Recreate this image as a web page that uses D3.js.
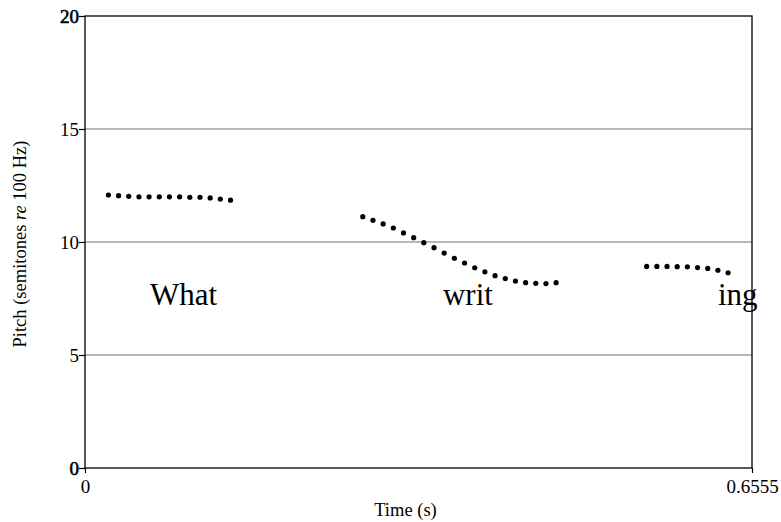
<!DOCTYPE html>
<html>
<head>
<meta charset="utf-8">
<script src="https://cdn.jsdelivr.net/npm/d3@7"></script>
<style>
  html, body { margin: 0; padding: 0; background: #fff; }
  svg { display: block; }
  svg text { font-family: "Liberation Serif", Times, serif !important; }
</style>
</head>
<body>
<svg id="chart" width="781" height="522"></svg>
<script>
// Pitch track data (time in s, pitch in semitones re 100 Hz)
const whatTimes = [0.023, 0.033, 0.043, 0.053, 0.063, 0.073, 0.083, 0.093, 0.103, 0.113, 0.123, 0.133, 0.143];
const whatPitch = [12.08, 12.05, 12.02, 12.0, 12.0, 12.0, 12.0, 12.0, 11.98, 11.98, 11.95, 11.9, 11.85];

const writTimes = [0.273, 0.283, 0.293, 0.303, 0.313, 0.323, 0.333, 0.343, 0.353, 0.363,
                   0.373, 0.383, 0.393, 0.403, 0.413, 0.423, 0.433, 0.443, 0.453, 0.463];
const writPitch = [11.12, 10.96, 10.80, 10.62, 10.40, 10.19, 9.97, 9.75, 9.51, 9.28,
                   9.07, 8.86, 8.68, 8.51, 8.38, 8.27, 8.20, 8.17, 8.16, 8.20];

const ingTimes = [0.552, 0.562, 0.572, 0.582, 0.592, 0.602, 0.612, 0.622, 0.632];
const ingPitch = [8.92, 8.92, 8.92, 8.91, 8.90, 8.87, 8.83, 8.75, 8.64];

const wordLabels = ["What", "writ", "ing"];
const wordTimes = [0.0639, 0.3518, 0.6221];  // left edge of each word label (s)
const wordPitch = [7.21, 7.21, 7.21];        // baseline of word labels (semitones)

const yTicks = [0, 5, 10, 15, 20];
const xTicks = [0, 0.6555];
const xDomain = [0, 0.6555];
const yDomain = [0, 20];

const FONT = '"Liberation Serif", Times, serif';
const svg = d3.select("#chart");
const margin = { left: 85, right: 29, top: 16, bottom: 54 };
const W = 781, H = 522;

const x = d3.scaleLinear().domain(xDomain).range([margin.left, W - margin.right]);
const y = d3.scaleLinear().domain(yDomain).range([H - margin.bottom, margin.top]);

// grid lines
svg.append("g")
  .selectAll("line")
  .data(yTicks.filter(d => d > 0 && d < 20))
  .join("line")
  .attr("x1", x(xDomain[0])).attr("x2", x(xDomain[1]))
  .attr("y1", d => y(d)).attr("y2", d => y(d))
  .attr("stroke", "#6e6e6e").attr("stroke-width", 1);

// frame
svg.append("rect")
  .attr("x", x(xDomain[0])).attr("y", y(yDomain[1]))
  .attr("width", x(xDomain[1]) - x(xDomain[0]))
  .attr("height", y(yDomain[0]) - y(yDomain[1]))
  .attr("fill", "none").attr("stroke", "#000").attr("stroke-width", 1.3);

// y axis
const yAxis = d3.axisLeft(y).tickValues(yTicks).tickSize(6).tickFormat(d3.format("d"));
const gy = svg.append("g").attr("transform", `translate(${x(0)},0)`).call(yAxis)
  .attr("font-family", FONT).attr("font-size", 19);
gy.select(".domain").remove();
gy.selectAll(".tick line").attr("stroke", "#000").attr("stroke-width", 1.2);
gy.selectAll(".tick text")
  .attr("x", -6)
  .attr("fill", "#000")
  .attr("stroke", d => (d === 0 || d === 20) ? "#000" : "none")
  .attr("stroke-width", 0.6);

// x axis
const xAxis = d3.axisBottom(x).tickValues(xTicks).tickSize(5).tickFormat(d => d === 0 ? "0" : "0.6555");
const gx = svg.append("g").attr("transform", `translate(0,${y(0)})`).call(xAxis)
  .attr("font-family", FONT).attr("font-size", 19);
gx.select(".domain").remove();
gx.selectAll(".tick line").attr("stroke", "#000").attr("stroke-width", 1.2);
gx.selectAll(".tick text").attr("y", 12).attr("fill", "#000");

// pitch dots
const series = [
  [whatTimes, whatPitch],
  [writTimes, writPitch],
  [ingTimes, ingPitch]
];
const dots = svg.append("g");
series.forEach(([ts, ps]) => {
  dots.selectAll(null)
    .data(ts.map((t, i) => [t, ps[i]]))
    .join("circle")
    .attr("cx", d => x(d[0]))
    .attr("cy", d => y(d[1]))
    .attr("r", 2.6)
    .attr("fill", "#000");
});

// word labels
svg.append("g")
  .selectAll("text")
  .data(wordLabels)
  .join("text")
  .attr("x", (d, i) => x(wordTimes[i]))
  .attr("y", (d, i) => y(wordPitch[i]))
  .attr("font-family", FONT)
  .attr("font-size", 31)
  .attr("fill", "#000")
  .text(d => d);

// axis titles
svg.append("text")
  .attr("x", (x(0) + x(0.6555)) / 2 - 13)
  .attr("y", 516)
  .attr("text-anchor", "middle")
  .attr("font-family", FONT)
  .attr("font-size", 18.5)
  .text("Time (s)");

const yl = svg.append("text")
  .attr("transform", `translate(26,${(y(0) + y(20)) / 2 + 2}) rotate(-90)`)
  .attr("text-anchor", "middle")
  .attr("font-family", FONT)
  .attr("font-size", 18.5);
yl.append("tspan").text("Pitch (semitones ");
yl.append("tspan").attr("font-style", "italic").text("re");
yl.append("tspan").text(" 100 Hz)");
</script>
</body>
</html>
